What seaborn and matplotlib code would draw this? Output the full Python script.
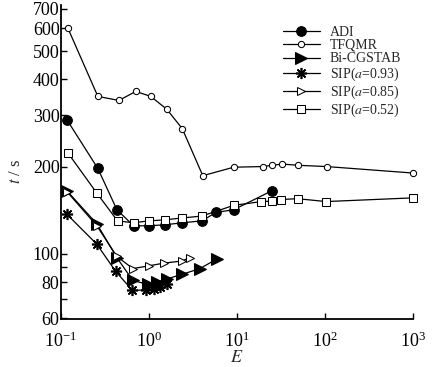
# E と計算時間 t の関係（両対数）
import pandas as pd
import seaborn as sns
from matplotlib import pyplot as plt
from matplotlib.ticker import FixedLocator, FixedFormatter, NullLocator, LogLocator, LogFormatterMathtext

# ---- データ ----
adi_E = [0.117, 0.263, 0.433, 0.67, 1.0, 1.52, 2.4, 4.0, 5.8, 9.2, 25]
adi_t = [290, 197, 142, 125, 125, 126, 128, 130, 139, 142, 165]

tfqmr_E = [0.12, 0.263, 0.456, 0.71, 1.05, 1.6, 2.4, 4.1, 9.2, 19.7, 25, 33, 50, 105, 1000]
tfqmr_t = [600, 349, 338, 363, 349, 315, 270, 186, 199, 200, 202, 204, 202, 200, 190]

bicg_E = [0.117, 0.256, 0.433, 0.658, 0.975, 1.23, 1.6, 2.37, 3.8, 5.9]
bicg_t = [165, 127, 97, 81, 78.5, 80, 82, 85, 89, 96]

sip93_E = [0.117, 0.256, 0.42, 0.647, 0.93, 1.13, 1.33, 1.6]
sip93_t = [137, 108, 87, 75, 75, 76, 77, 79]

sip85_E = [0.117, 0.256, 0.433, 0.658, 1.0, 1.5, 2.37, 2.9]
sip85_t = [164, 125, 98, 89, 91, 93, 94.5, 97]

sip52_E = [0.12, 0.256, 0.44, 0.67, 1.0, 1.52, 2.37, 4.0, 9.2, 19, 25, 32, 49, 103, 1000]
sip52_t = [223, 162, 130, 128, 130, 131, 133, 135, 147, 151.5, 152, 154, 155, 151.5, 156]

labels = ['ADI', 'TFQMR', 'Bi-CGSTAB',
          'SIP($a$=0.93)', 'SIP($a$=0.85)', 'SIP($a$=0.52)']

y_ticks = [60, 70, 80, 90, 100, 200, 300, 400, 500, 600, 700]
y_ticklabels = ['60', '', '80', '', '100', '200', '300', '400', '500', '600', '700']

# ---- 表示設定 ----
sns.set_style('ticks')
plt.rcParams['font.family'] = ['Liberation Serif', 'DejaVu Serif']
plt.rcParams['mathtext.fontset'] = 'stix'

series = [
    (adi_E, adi_t, dict(marker='o', markersize=7, markerfacecolor='black')),
    (tfqmr_E, tfqmr_t, dict(marker='o', markersize=4.5, markerfacecolor='white')),
    (bicg_E, bicg_t, dict(marker='>', markersize=8, markerfacecolor='black')),
    (sip93_E, sip93_t, dict(marker=(8, 2, 0), markersize=8, markeredgewidth=1.2)),
    (sip85_E, sip85_t, dict(marker='>', markersize=5.5, markerfacecolor='white')),
    (sip52_E, sip52_t, dict(marker='s', markersize=6, markerfacecolor='white')),
]

fig = plt.figure(figsize=(4.35, 3.67), dpi=100)
ax = fig.add_axes([0.140, 0.131, 0.809, 0.855])

for (E, t, style), label in zip(series, labels):
    df = pd.DataFrame({'E': E, 't': t})
    sns.lineplot(data=df, x='E', y='t', ax=ax, color='black', linewidth=0.9,
                 markeredgecolor='black', label=label, clip_on=False, **style)

ax.set_xscale('log')
ax.set_yscale('log')
ax.set_xlim(0.1, 1000)
ax.set_ylim(59.7, 720)

ax.xaxis.set_major_locator(LogLocator(base=10, numticks=10))
ax.xaxis.set_major_formatter(LogFormatterMathtext())
ax.xaxis.set_minor_locator(NullLocator())
ax.yaxis.set_major_locator(FixedLocator(y_ticks))
ax.yaxis.set_major_formatter(FixedFormatter(y_ticklabels))
ax.yaxis.set_minor_locator(NullLocator())

ax.tick_params(direction='in', length=4, width=1, labelsize=13, colors='black')
ax.tick_params(axis='x', pad=9)
ax.tick_params(axis='y', pad=1)
for side in ['left', 'bottom']:
    ax.spines[side].set_linewidth(1.3)
    ax.spines[side].set_color('black')
sns.despine(ax=ax)

ax.set_xlabel('$E$', fontsize=13, labelpad=-1)
ax.set_ylabel('$t$ / s', fontsize=12)
ax.yaxis.set_label_coords(-0.105, 0.47)

ax.legend(loc='upper left', bbox_to_anchor=(0.63, 0.935), frameon=False,
          fontsize=10, handlelength=2.7, handletextpad=0.7,
          borderpad=0, borderaxespad=0, labelspacing=0.03)

fig.savefig('out.png', dpi=100)
